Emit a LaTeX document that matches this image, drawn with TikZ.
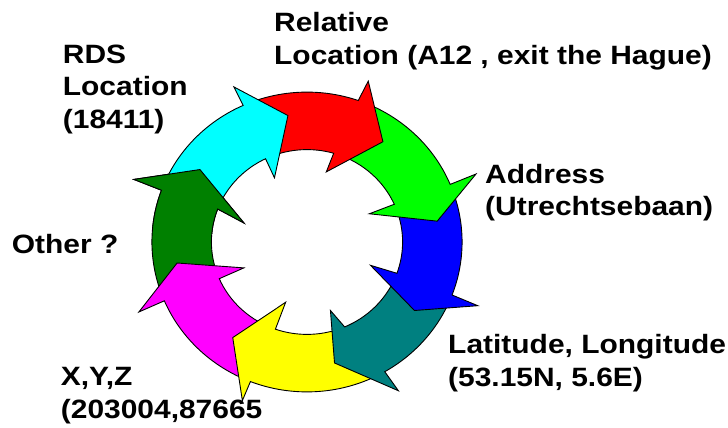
\documentclass[tikz,border=0pt]{standalone}
\usepackage{fontspec}
\setmainfont{Liberation Sans}
\usepackage{graphicx}
\definecolor{arCyan}{RGB}{0,255,255}
\definecolor{arRed}{RGB}{255,0,0}
\definecolor{arGreen}{RGB}{0,255,0}
\definecolor{arBlue}{RGB}{0,0,255}
\definecolor{arTeal}{RGB}{0,128,128}
\definecolor{arYellow}{RGB}{255,255,0}
\definecolor{arMagenta}{RGB}{255,0,255}
\definecolor{arDkGreen}{RGB}{0,128,0}
\newcommand{\ringRo}{152.5}
\newcommand{\ringRi}{94}
% #1 colour, #2 tail angle (inner), #3 tail angle (outer), #4 outer notch angle,
% #5 outer barb, #6 tip, #7 inner barb, #8 inner notch angle
\newcommand{\ringarrow}[8]{%
  \path[arrowpiece,fill=#1] (#2:\ringRi) -- (#3:\ringRo)
    arc[start angle=#3,end angle=#4,radius=\ringRo]
    -- (#5) -- (#6) -- (#7) -- (#8:\ringRi)
    arc[start angle=#8,end angle=#2,radius=\ringRi] -- cycle;}
\newcommand{\lbltext}[1]{\scalebox{1.13}[1]{\begin{tabular}[t]{@{}l@{}}#1\end{tabular}}}
\tikzset{
  arrowpiece/.style={draw=black,line width=0.9pt,line join=miter,miter limit=6},
  lbl/.style={anchor=base west,inner sep=0pt,font=\fontsize{26.5}{32.5}\selectfont\bfseries}
}
\begin{document}
\begin{tikzpicture}[x=1pt,y=1pt]
\useasboundingbox (0,0) rectangle (728,428);
\begin{scope}[shift={(307,186)},xscale=1.017,yscale=0.983]
  \ringarrow{arDkGreen}{-159.6}{-159.9}{-200.2}{-200.5:181.8}{-215:128.5}{-197.3:64.9}{-200.9}
  \ringarrow{arMagenta}{-112.3}{-114.4}{-156.9}{-156.7:180}{-170.5:129.5}{-157:67.4}{-156.6}
  \ringarrow{arYellow}{-69.8}{-62.9}{-111.4}{-111.5:173.4}{-126.9:121.6}{-108.9:64.8}{-109.3}
  \ringarrow{arTeal}{-22.8}{-23.7}{-59.9}{-59.3:176}{-77.6:126}{-71.7:73.4}{-66.8}
  \ringarrow{arBlue}{21.1}{19.6}{-20.7}{-21.1:180}{-33.4:126.6}{-20.8:66.8}{-19.8}
  \ringarrow{arGreen}{70.8}{67.7}{22.6}{22.6:180}{9.4:129.8}{25.1:67.7}{24.1}
  \ringarrow{arRed}{112.7}{111.3}{70.7}{69.8:174.4}{53.8:126.4}{75.1:73.8}{73.8}
  \ringarrow{arCyan}{156.1}{156.8}{114.3}{114.5:173.4}{98.3:130}{116.1:72.7}{115.7}
  \begin{scope}
    \clip (0,0) -- (135:230) arc[start angle=135,end angle=175,radius=230] -- cycle;
    \ringarrow{arDkGreen}{-159.6}{-159.9}{-200.2}{-200.5:181.8}{-215:128.5}{-197.3:64.9}{-200.9}
  \end{scope}
\end{scope}
\node[lbl] (rel) at (274,396.3) {\lbltext{Relative\\Location (A12 , exit the Hague)}};
\node[lbl] (rds) at (62.7,364.7) {\lbltext{RDS\\Location\\(18411)}};
\node[lbl] (addr) at (485,244.7) {\lbltext{Address\\(Utrechtsebaan)}};
\node[lbl] (other) at (11.7,174.7) {\lbltext{Other ?}};
\node[lbl] (lat) at (448,74) {\lbltext{Latitude, Longitude\\(53.15N, 5.6E)}};
\node[lbl] (xyz) at (60.7,42) {\lbltext{X,Y,Z\\(203004,87665}};
\end{tikzpicture}
\end{document}
